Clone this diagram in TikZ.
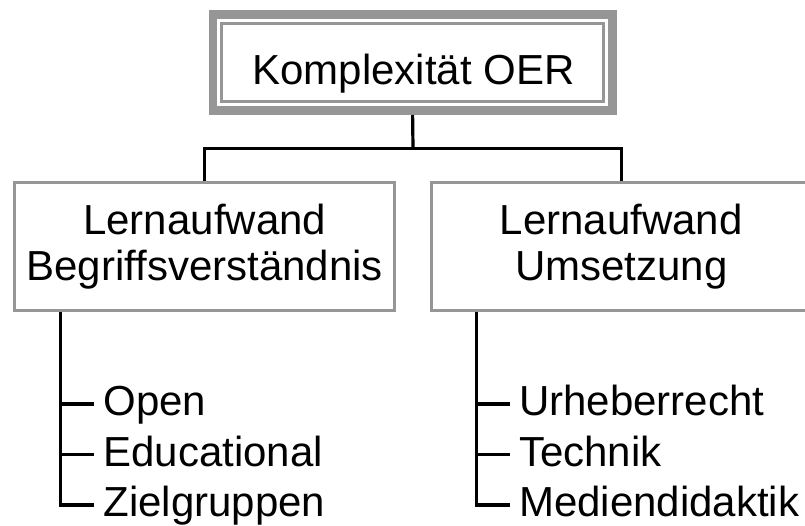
\documentclass[tikz,border=0pt]{standalone}
\usepackage{fontspec}
\setmainfont{Liberation Sans}
\definecolor{framegray}{RGB}{150,150,150}
\tikzset{
  txt/.style={font=\fontsize{42}{46}\selectfont},
  branchbox/.style={draw=framegray, line width=3pt, fill=white,
    minimum width=380pt, minimum height=127.8pt, align=center, inner sep=0pt, txt},
  item/.style={anchor=west, inner xsep=9pt, inner ysep=0pt,
    text height=31pt, text depth=8pt, txt},
  link/.style={draw=black, line width=3.2pt}
}
\begin{document}
\begin{tikzpicture}[x=1pt,y=-1pt]
  \useasboundingbox (0,0) rectangle (805,526);

  % root: thick outer frame with a thin inner frame
  \node[draw=framegray, line width=8.7pt, minimum width=399.5pt, minimum height=96.3pt,
        inner sep=0pt] (root) at (412.6,62.5) {};
  \node[draw=framegray, line width=2.9pt, minimum width=381.4pt, minimum height=78.2pt,
        inner sep=0pt] (rootin) at (root.center) {};
  \node[txt, anchor=base, inner sep=0pt] (roottxt) at (413.5,84.3) {Komplexität OER};

  % the two branches
  \node[branchbox] (lb) at (204.7,246.9) {Lernaufwand\\Begriffsverständnis};
  \node[branchbox] (rb) at (621.3,246.9) {Lernaufwand\\Umsetzung};

  \coordinate (bus) at (413,148.3);
  \draw[link] (root.south) -- (bus);
  \draw[link] (lb.north) |- (bus) -| (rb.north);

  % left list
  \node[item] (open) at (94.3,404) {Open};
  \node[item] (edu)  at (94.3,454.5) {Educational};
  \node[item] (zg)   at (94.3,505) {Zielgruppen};
  \coordinate (lroot) at (60.8,312);
  \draw[link] (lroot) |- (zg.west);
  \draw[link] (lroot |- open.west) -- (open.west);
  \draw[link] (lroot |- edu.west) -- (edu.west);

  % right list
  \node[item] (ur)  at (510,404) {Urheberrecht};
  \node[item] (te)  at (510,454.5) {Technik};
  \node[item] (md)  at (510,505) {Mediendidaktik};
  \coordinate (rroot) at (476.7,312);
  \draw[link] (rroot) |- (md.west);
  \draw[link] (rroot |- ur.west) -- (ur.west);
  \draw[link] (rroot |- te.west) -- (te.west);
\end{tikzpicture}
\end{document}
